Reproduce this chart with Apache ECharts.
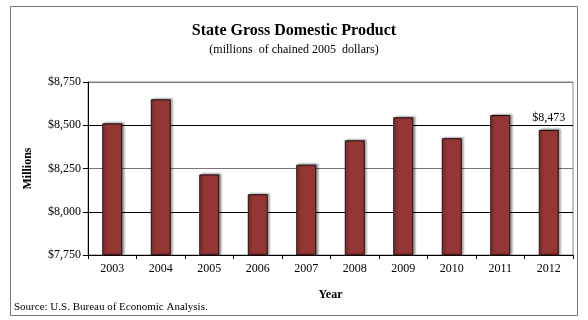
<!DOCTYPE html>
<html>
<head>
<meta charset="utf-8">
<script src="https://cdn.jsdelivr.net/npm/echarts@6/dist/echarts.min.js"></script>
<style>
  html, body { margin: 0; padding: 0; background: #fff; }
  #chart { width: 588px; height: 320px; }
</style>
</head>
<body>
<div id="chart"></div>
<script>
const years = ['2003', '2004', '2005', '2006', '2007', '2008', '2009', '2010', '2011', '2012'];
const gdp = [8511, 8650, 8216, 8101, 8272, 8413, 8546, 8425, 8559, 8473];
const yMin = 7750, yMax = 8750, yStep = 250;

const serif = '"Liberation Serif", "DejaVu Serif", serif';
const fmt = v => '$' + v.toLocaleString('en-US');

const chart = echarts.init(document.getElementById('chart'));
chart.setOption({
    animation: false,
    title: [
        {
            text: 'State Gross Domestic Product',
            left: 'center', top: 18,
            textStyle: { fontFamily: serif, fontSize: 16, fontWeight: 'bold', color: '#000' }
        },
        {
            text: '(millions  of chained 2005  dollars)',
            left: 'center', top: 39,
            textStyle: { fontFamily: serif, fontSize: 12, fontWeight: 'normal', color: '#000' }
        }
    ],
    grid: { left: 88, right: 15, top: 82, bottom: 65, show: true, borderColor: '#888', borderWidth: 1 },
    graphic: [
        { type: 'rect', shape: { x: 10.5, y: 6.5, width: 567, height: 309 },
          style: { fill: 'none', stroke: '#777', lineWidth: 1 }, silent: true },
        { type: 'text', left: 14, top: 302,
          style: { text: 'Source: U.S. Bureau of Economic Analysis.', font: '11px ' + serif, fill: '#000' } }
    ],
    xAxis: {
        type: 'category',
        data: years,
        name: 'Year',
        nameLocation: 'middle',
        nameGap: 34,
        nameTextStyle: { fontFamily: serif, fontSize: 12, fontWeight: 'bold', color: '#000' },
        axisLine: { lineStyle: { color: '#000', width: 1 } },
        axisTick: { show: true, alignWithLabel: false, length: 4, lineStyle: { color: '#000' } },
        axisLabel: { fontFamily: serif, fontSize: 12, color: '#000', margin: 8 }
    },
    yAxis: {
        type: 'value',
        min: yMin, max: yMax, interval: yStep,
        name: 'Millions',
        nameLocation: 'middle',
        nameGap: 54,
        nameTextStyle: { fontFamily: serif, fontSize: 12, fontWeight: 'bold', color: '#000' },
        axisLine: { show: true, lineStyle: { color: '#000', width: 1 } },
        axisTick: { show: true, length: 5, lineStyle: { color: '#000' } },
        axisLabel: { fontFamily: serif, fontSize: 12, color: '#000', margin: 7, formatter: fmt },
        splitLine: { show: true, lineStyle: { color: ['#000', '#000', '#777', '#000', '#777'], width: 1 } }
    },
    series: [{
        type: 'bar',
        data: gdp.map((v, i) => i === gdp.length - 1
            ? { value: v, label: { show: true, position: 'top', distance: 6, fontFamily: serif, fontSize: 12, color: '#000', formatter: p => fmt(p.value) } }
            : v),
        barWidth: 20,
        itemStyle: {
            color: '#943634',
            borderColor: '#1a0a0a',
            borderWidth: 1,
            shadowColor: 'rgba(0,0,0,0.35)',
            shadowBlur: 2,
            shadowOffsetX: 2,
            shadowOffsetY: -1
        }
    }]
});
</script>
</body>
</html>
